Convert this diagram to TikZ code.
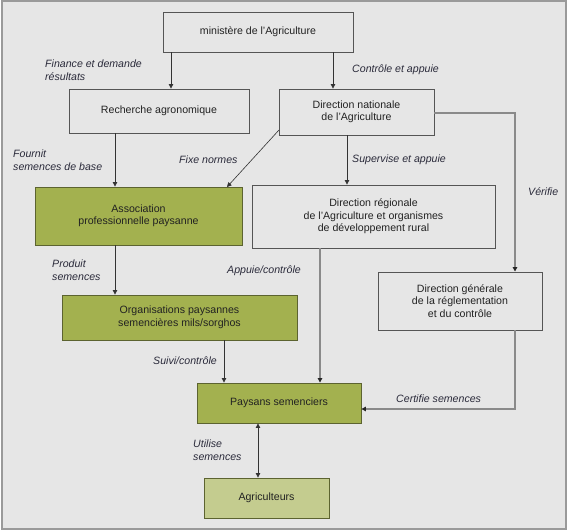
\documentclass[tikz,border=0pt]{standalone}
\usepackage{fontspec}
\setmainfont{Liberation Sans}
\usetikzlibrary{arrows.meta}
\definecolor{bg}{HTML}{E6E6E6}
\definecolor{frame}{HTML}{9A9A9A}
\definecolor{boxline}{HTML}{555555}
\definecolor{olive}{HTML}{A3B14F}
\definecolor{oliveline}{HTML}{5C6330}
\definecolor{lightolive}{HTML}{C4CC8F}
\definecolor{grayline}{HTML}{8A8A8A}
\definecolor{txt}{HTML}{222222}
\definecolor{lbl}{HTML}{2A2A3A}
\tikzset{
  box/.style={draw=boxline, line width=0.9pt, fill=bg, inner sep=0pt, align=center, text=txt,
    font=\fontsize{10.6}{12.5}\selectfont},
  greenbox/.style={box, fill=olive, draw=oliveline},
  lightbox/.style={box, fill=lightolive, draw=oliveline},
  lab/.style={anchor=west, align=left, inner sep=0pt, text=lbl,
    font=\fontsize{10.6}{12.8}\selectfont\itshape},
  arr/.style={draw=black!80, line width=0.8pt, -{Triangle[length=4.5pt,width=4.5pt]}},
  garr/.style={draw=grayline, line width=1.2pt, -{Triangle[length=4.5pt,width=4.5pt,color=black!85]}},
  gline/.style={draw=grayline, line width=1.2pt},
}
\begin{document}
\begin{tikzpicture}[x=1pt,y=-1pt]
\useasboundingbox (0,0) rectangle (568,532);
\draw[fill=bg, draw=frame, line width=1.5pt] (2,1) rectangle (566,529);

% boxes
\node[box, minimum width=190pt, minimum height=40pt] (min) at (258,32) {ministère de l’Agriculture};
\node[box, minimum width=180pt, minimum height=44pt] (rech) at (159,111) {Recherche agronomique};
\node[box, minimum width=155pt, minimum height=46pt] (dn) at (356.5,112) {Direction nationale\\de l’Agriculture};
\node[greenbox, minimum width=207pt, minimum height=58pt] (assoc) at (138.5,216) {Association\\professionnelle paysanne};
\node[box, minimum width=243pt, minimum height=63pt] (dr) at (373.5,216.5) {Direction régionale\\de l’Agriculture et organismes\\de développement rural};
\node[box, minimum width=164pt, minimum height=58pt] (dg) at (460,301) {Direction générale\\de la réglementation\\et du contrôle};
\node[greenbox, minimum width=235pt, minimum height=45pt] (org) at (179.5,317.5) {Organisations paysannes\\semencières mils/sorghos};
\node[greenbox, minimum width=164pt, minimum height=40pt] (pay) at (279,403) {Paysans semenciers};
\node[lightbox, minimum width=125pt, minimum height=40pt] (agri) at (266.5,498) {Agriculteurs};

% helper coordinates
\coordinate (xa) at (171,0);
\coordinate (xb) at (333,0);
\coordinate (xc) at (115,0);
\coordinate (xd) at (347,0);
\coordinate (xe) at (224,0);
\coordinate (xf) at (320,0);
\coordinate (xg) at (258,0);
\coordinate (ya) at (0,113);
\coordinate (yb) at (0,409);
\coordinate (dnsw) at (279,130);
\coordinate (assocne) at (227,187);
\coordinate (vx) at (515,113);
\coordinate (vy) at (515,409);

% connectors
\draw[arr] (min.south -| xa) -- (rech.north -| xa);
\draw[arr] (min.south -| xb) -- (dn.north -| xb);
\draw[arr] (rech.south -| xc) -- (assoc.north -| xc);
\draw[arr, line width=0.6pt] (dnsw) -- (assocne);
\draw[arr] (dn.south -| xd) -- (dr.north -| xd);
\draw[garr] (dn.east |- ya) -- (vx) -- (dg.north -| vx);
\draw[arr] (assoc.south -| xc) -- (org.north -| xc);
\draw[arr] (org.south -| xe) -- (pay.north -| xe);
\draw[garr] (dr.south -| xf) -- (pay.north -| xf);
\draw[garr] (dg.south -| vx) -- (vy) -- (pay.east |- yb);
\draw[arr, {Triangle[length=4.5pt,width=4.5pt]}-{Triangle[length=4.5pt,width=4.5pt]}] (pay.south -| xg) -- (agri.north -| xg);

% labels
\node[lab] (l1) at (45,70.5) {Finance et demande\\résultats};
\node[lab] (l2) at (352,70) {Contrôle et appuie};
\node[lab] (l3) at (13,160) {Fournit\\semences de base};
\node[lab] (l4) at (179,160) {Fixe normes};
\node[lab] (l5) at (352,160) {Supervise et appuie};
\node[lab] (l6) at (528,192) {Vérifie};
\node[lab] (l7) at (52,270) {Produit\\semences};
\node[lab] (l8) at (227,271) {Appuie/contrôle};
\node[lab] (l9) at (153,361) {Suivi/contrôle};
\node[lab] (l10) at (396,399) {Certifie semences};
\node[lab] (l11) at (193,450.5) {Utilise\\semences};
\end{tikzpicture}
\end{document}
